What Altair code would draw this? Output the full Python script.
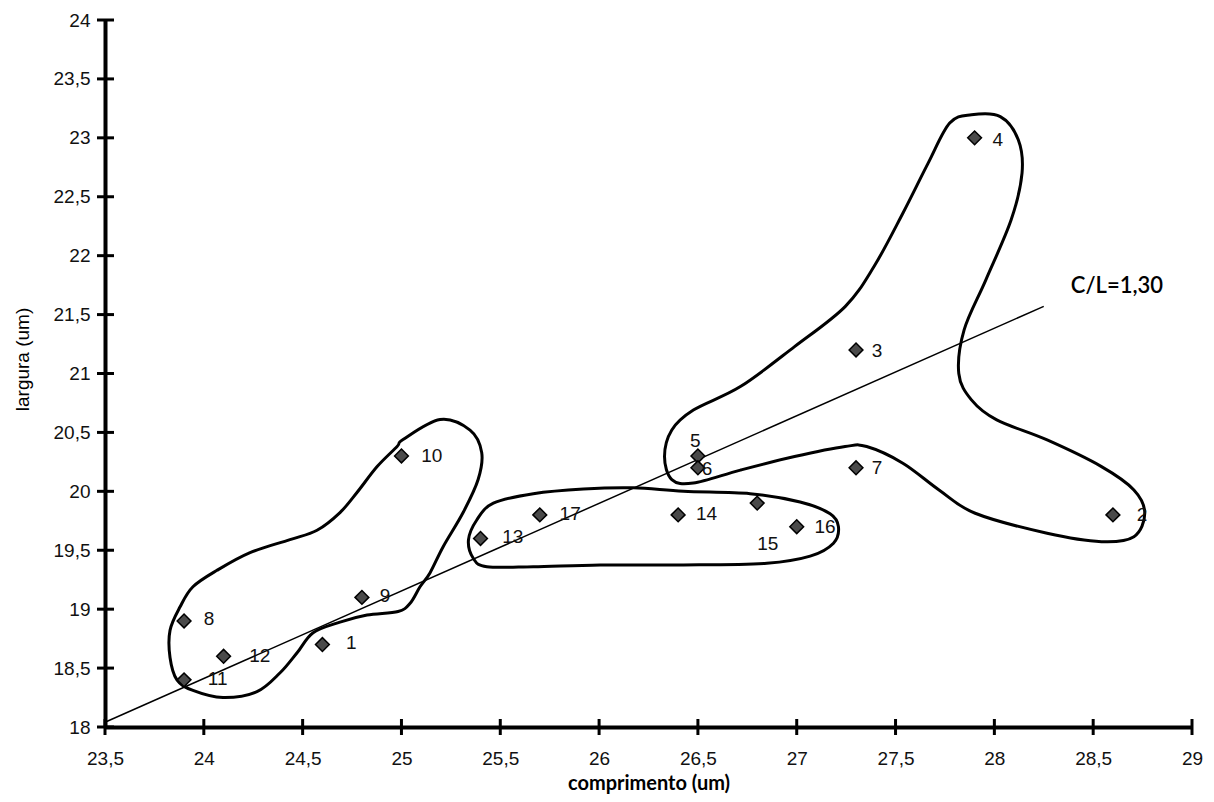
import altair as alt
import pandas as pd

# --- data ---
point_ids = [str(i) for i in range(1, 18)]
comprimento = [24.6, 28.6, 27.3, 27.9, 26.5, 26.5, 27.3, 23.9, 24.8, 25.0,
               23.9, 24.1, 25.4, 26.4, 26.8, 27.0, 25.7]
largura = [18.7, 19.8, 21.2, 23.0, 20.3, 20.2, 20.2, 18.9, 19.1, 20.3,
           18.4, 18.6, 19.6, 19.8, 19.9, 19.7, 19.8]
label_text = [str(i) for i in range(1, 18)]
label_x = [24.72, 28.72, 27.38, 27.99, 26.46, 26.52, 27.38, 24.00, 24.89, 25.10,
           24.02, 24.23, 25.51, 26.49, 26.80, 27.09, 25.80]
label_y = [18.71, 19.80, 21.19, 22.98, 20.43, 20.19, 20.20, 18.92, 19.11, 20.30,
           18.41, 18.60, 19.61, 19.81, 19.55, 19.70, 19.81]

x_ticks = [23.5, 24, 24.5, 25, 25.5, 26, 26.5, 27, 27.5, 28, 28.5, 29]
y_ticks = [18, 18.5, 19, 19.5, 20, 20.5, 21, 21.5, 22, 22.5, 23, 23.5, 24]

# reference line C/L = 1,30 (end points as drawn)
ref_x = [23.5, 28.25]
ref_y = [18.04, 21.57]
ref_label = "C/L=1,30"
ref_label_x = [28.62]
ref_label_y = [21.74]

# hand-drawn group outlines (data units)
blob_a_x = [25.008, 25.195, 25.347, 25.406, 25.388, 25.312, 25.211, 25.145, 25.094, 25.044,
            24.983, 24.826, 24.689, 24.553, 24.472, 24.386, 24.269, 24.097, 23.945, 23.864,
            23.829, 23.829, 23.880, 23.945, 24.067, 24.234, 24.436, 24.573, 24.689, 24.775,
            24.877, 24.978]
blob_a_y = [20.44, 20.61, 20.52, 20.33, 20.10, 19.82, 19.53, 19.31, 19.19, 19.05,
            18.98, 18.95, 18.89, 18.80, 18.63, 18.46, 18.30, 18.25, 18.31, 18.40,
            18.59, 18.82, 19.02, 19.19, 19.33, 19.48, 19.59, 19.67, 19.82, 19.99,
            20.21, 20.38]
blob_b_x = [25.339, 25.381, 25.465, 25.667, 25.921, 26.174, 26.427, 26.764, 27.017, 27.169,
            27.211, 27.186, 27.068, 26.849, 26.427, 26.005, 25.667, 25.432, 25.364]
blob_b_y = [19.587, 19.757, 19.90, 19.98, 20.02, 20.03, 20.00, 19.98, 19.91, 19.81,
            19.70, 19.56, 19.45, 19.39, 19.375, 19.375, 19.36, 19.36, 19.43]
blob_c_x = [26.331, 26.368, 26.477, 26.715, 26.989, 27.245, 27.391, 27.537, 27.665, 27.774,
            27.884, 28.030, 28.121, 28.140, 28.085, 27.957, 27.847, 27.820, 27.884, 28.012,
            28.267, 28.542, 28.706, 28.761, 28.706, 28.542, 28.267, 27.903, 27.720, 27.537,
            27.354, 27.245, 26.989, 26.715, 26.477, 26.368]
blob_c_y = [20.295, 20.521, 20.69, 20.889, 21.228, 21.568, 21.908, 22.36, 22.785, 23.125,
            23.195, 23.18, 22.983, 22.70, 22.304, 21.795, 21.37, 21.00, 20.776, 20.606,
            20.436, 20.21, 20.012, 19.814, 19.615, 19.573, 19.644, 19.814, 20.012, 20.239,
            20.38, 20.38, 20.295, 20.18, 20.07, 20.10]

# --- tables ---
points = pd.DataFrame({"id": point_ids, "c": comprimento, "l": largura})
labels = pd.DataFrame({"t": label_text, "x": label_x, "y": label_y})
ref = pd.DataFrame({"x": ref_x, "y": ref_y})
ref_lab = pd.DataFrame({"x": ref_label_x, "y": ref_label_y, "t": [ref_label]})
blobs = pd.concat([
    pd.DataFrame({"blob": "A", "i": range(len(blob_a_x)), "x": blob_a_x, "y": blob_a_y}),
    pd.DataFrame({"blob": "B", "i": range(len(blob_b_x)), "x": blob_b_x, "y": blob_b_y}),
    pd.DataFrame({"blob": "C", "i": range(len(blob_c_x)), "x": blob_c_x, "y": blob_c_y}),
], ignore_index=True)
xt = pd.DataFrame({"v": x_ticks})
yt = pd.DataFrame({"v": y_ticks})

W, H = 1087, 707
label_expr = "replace(format(datum.value, '.1~f'), '.', ',')"

xscale = alt.Scale(domain=[23.5, 29], nice=False, zero=False)
yscale = alt.Scale(domain=[18, 24], nice=False, zero=False)

xaxis = alt.Axis(values=x_ticks, labelExpr=label_expr, ticks=False, grid=False,
                 domainWidth=4, domainColor="black",
                 labelFont="Liberation Sans", labelFontSize=19, labelColor="#111",
                 labelPadding=22, labelFlush=False,
                 title="comprimento (um)", titleFont="Lato", titleFontWeight="bold",
                 titleFontSize=20, titleColor="black", titleY=62,
                 titleBaseline="alphabetic")
yaxis = alt.Axis(values=y_ticks, labelExpr=label_expr, ticks=False, grid=False,
                 domainWidth=4, domainColor="black",
                 labelFont="Liberation Sans", labelFontSize=19, labelColor="#111",
                 labelPadding=15, labelFlush=False,
                 title="largura (um)", titleFont="Liberation Sans", titleFontWeight="normal",
                 titleFontSize=19, titleColor="black", titleX=-83, titleY=339,
                 titleAngle=-90, titleAlign="center", titleBaseline="middle")

blob_layer = alt.Chart(blobs).mark_line(
    interpolate="cardinal-closed", color="black", strokeWidth=3
).encode(
    x=alt.X("x:Q", scale=xscale, axis=xaxis),
    y=alt.Y("y:Q", scale=yscale, axis=yaxis),
    detail="blob:N",
    order="i:Q",
)

ref_layer = alt.Chart(ref).mark_line(color="black", strokeWidth=1.5).encode(
    x=alt.X("x:Q", scale=xscale), y=alt.Y("y:Q", scale=yscale)
)

ref_text = alt.Chart(ref_lab).mark_text(
    font="Lato", fontSize=22, fontWeight=600, color="black", align="center",
    baseline="middle"
).encode(x=alt.X("x:Q", scale=xscale), y=alt.Y("y:Q", scale=yscale), text="t:N")

pts = alt.Chart(points).mark_point(
    shape="diamond", filled=True, size=190, fill="#4a4a4a", stroke="black",
    strokeWidth=1.5, opacity=1
).encode(x=alt.X("c:Q", scale=xscale), y=alt.Y("l:Q", scale=yscale))

pt_labels = alt.Chart(labels).mark_text(
    font="Liberation Sans", fontSize=19, color="#111", align="left", baseline="middle"
).encode(x=alt.X("x:Q", scale=xscale), y=alt.Y("y:Q", scale=yscale), text="t:N")

xtick_layer = alt.Chart(xt).mark_rule(color="black", strokeWidth=3).encode(
    x=alt.X("v:Q", scale=xscale), y=alt.value(H - 8), y2=alt.value(H + 8)
)
ytick_layer = alt.Chart(yt).mark_rule(color="black", strokeWidth=3).encode(
    y=alt.Y("v:Q", scale=yscale), x=alt.value(-8), x2=alt.value(9)
)

chart = alt.layer(
    blob_layer, ref_layer, ref_text, pts, pt_labels, xtick_layer, ytick_layer
).properties(
    width=W, height=H,
    autosize=alt.AutoSizeParams(type="none"),
    padding={"left": 105, "top": 20, "right": 22, "bottom": 75},
    background="white",
).configure_view(stroke=None)

chart.save("out.html", embed_options={"renderer": "svg", "actions": False})
